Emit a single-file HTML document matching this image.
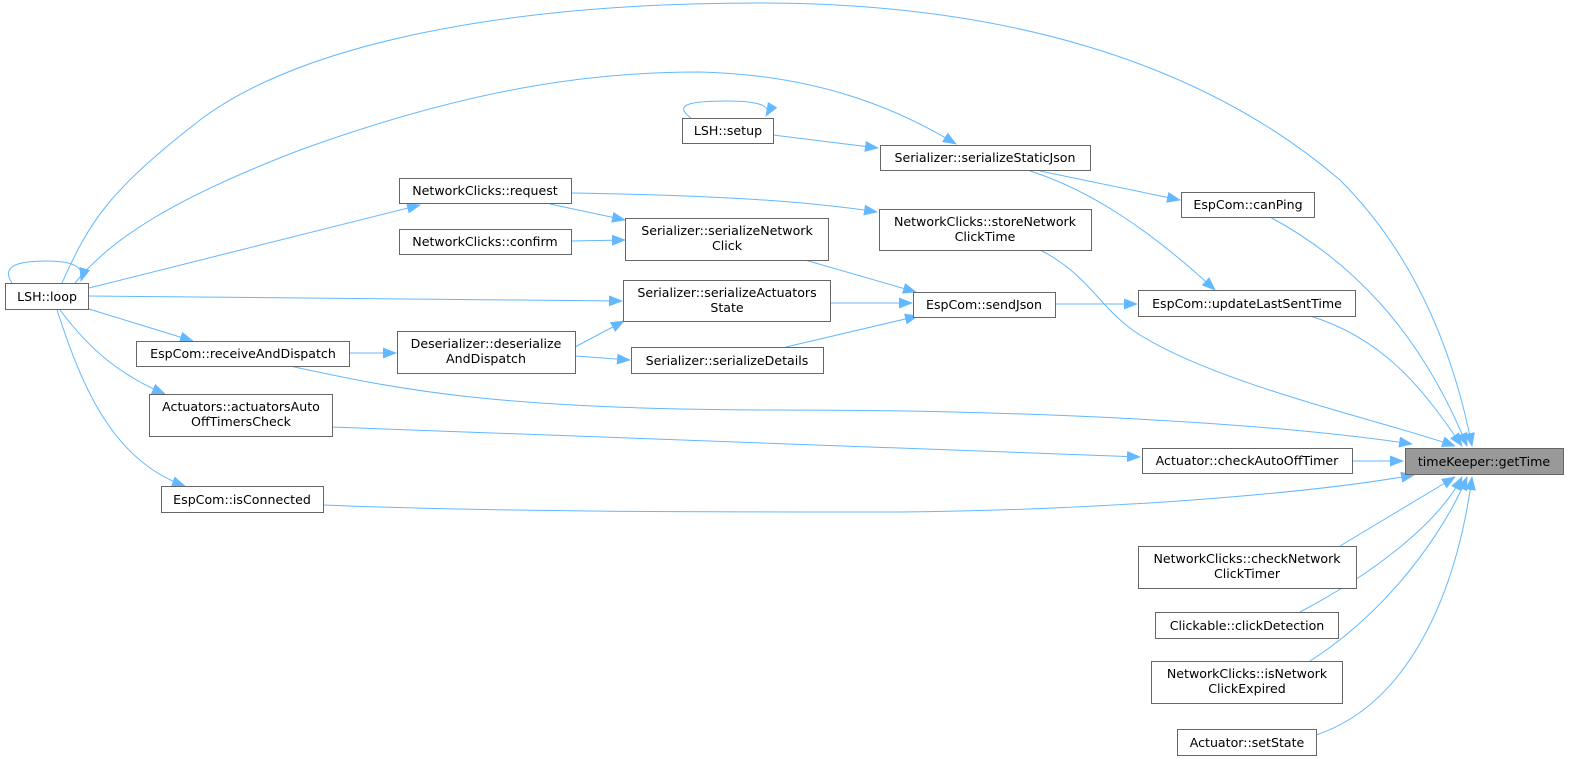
<!DOCTYPE html>
<html><head><meta charset="utf-8"><style>
html,body{margin:0;padding:0;background:#fff;}
svg{display:block;}
text{font-family:"DejaVu Sans","Liberation Sans",sans-serif;font-size:12.6px;fill:#000;text-anchor:middle;}
.n{fill:#fff;stroke:#666;stroke-width:1;}
.g{fill:#999;stroke:#666;stroke-width:1;}
path.e{fill:none;stroke:#63b8ff;stroke-width:1;marker-end:url(#a);}
</style></head><body>
<svg width="1569" height="759" viewBox="0 0 1569 759" xmlns="http://www.w3.org/2000/svg">
<defs><marker id="a" markerWidth="14" markerHeight="11" refX="13" refY="5.5" orient="auto" markerUnits="userSpaceOnUse"><path d="M0,0 L14,5.5 L0,11 Z" fill="#63b8ff"/></marker></defs>

<path class="e" d="M12,283 C0,265 20,261 47,261 C75,261 85,268 81,281"/>
<path class="e" d="M691,118 C672,104 692,101 727,101 C760,101 772,106 766,116"/>
<path class="e" d="M62,283 C90,220 110,190 200,120 C300,45 500,3 760,3 C1000,3 1200,60 1340,180 C1420,260 1455,360 1472,446"/>
<path class="e" d="M75,283 C110,240 170,200 300,150 C480,85 600,72 700,72 C820,75 900,110 956,144"/>
<path class="e" d="M773,135 L878,148"/>
<path class="e" d="M1030,171 C1090,190 1150,230 1215,290"/>
<path class="e" d="M1040,171 L1180,200"/>
<path class="e" d="M89,288 L420,205"/>
<path class="e" d="M89,296 L622,301"/>
<path class="e" d="M89,309 L193,341"/>
<path class="e" d="M60,310 C90,350 120,375 165,394"/>
<path class="e" d="M57,310 C80,380 110,460 185,486"/>
<path class="e" d="M349,353 L396,353"/>
<path class="e" d="M575,347 L624,321"/>
<path class="e" d="M575,356 L630,360"/>
<path class="e" d="M550,204 L625,220"/>
<path class="e" d="M571,241 L625,240"/>
<path class="e" d="M571,193 C700,195 800,200 877,212"/>
<path class="e" d="M805,260 L916,292"/>
<path class="e" d="M830,303 L912,303"/>
<path class="e" d="M786,347 L918,316"/>
<path class="e" d="M1055,304 L1137,304"/>
<path class="e" d="M290,366 C400,390 500,410 780,410 C1000,410 1250,420 1412,444"/>
<path class="e" d="M1040,250 C1090,275 1100,310 1140,335 C1220,385 1380,420 1455,446"/>
<path class="e" d="M1310,316 C1390,340 1430,400 1462,446"/>
<path class="e" d="M1270,217 C1350,260 1420,330 1467,446"/>
<path class="e" d="M332,427 L1140,457"/>
<path class="e" d="M1352,461 L1403,461"/>
<path class="e" d="M323,505 C500,512 700,512 900,512 C1100,510 1300,495 1414,475"/>
<path class="e" d="M1340,546 L1455,477"/>
<path class="e" d="M1300,612 C1380,570 1440,520 1462,477"/>
<path class="e" d="M1310,661 C1390,610 1445,530 1467,477"/>
<path class="e" d="M1316,735 C1420,700 1460,570 1472,477"/>

<rect class="n" x="5.5" y="283.5" width="83" height="26"/><text x="47" y="301">LSH::loop</text>
<rect class="n" x="682.5" y="118.5" width="91" height="25"/><text x="728" y="135">LSH::setup</text>
<rect class="n" x="880.5" y="145.5" width="210" height="25"/><text x="985" y="162">Serializer::serializeStaticJson</text>
<rect class="n" x="399.5" y="178.5" width="172" height="25"/><text x="485" y="195">NetworkClicks::request</text>
<rect class="n" x="879.5" y="209.5" width="212" height="41"/><text x="985" y="226">NetworkClicks::storeNetwork</text><text x="985" y="241">ClickTime</text>
<rect class="n" x="625.5" y="218.5" width="203" height="42"/><text x="727" y="235">Serializer::serializeNetwork</text><text x="727" y="250">Click</text>
<rect class="n" x="399.5" y="229.5" width="172" height="25"/><text x="485" y="246">NetworkClicks::confirm</text>
<rect class="n" x="1181.5" y="192.5" width="133" height="25"/><text x="1248" y="209">EspCom::canPing</text>
<rect class="n" x="623.5" y="280.5" width="207" height="41"/><text x="727" y="297">Serializer::serializeActuators</text><text x="727" y="312">State</text>
<rect class="n" x="913.5" y="292.5" width="142" height="25"/><text x="984" y="309">EspCom::sendJson</text>
<rect class="n" x="1138.5" y="290.5" width="217" height="26"/><text x="1247" y="308">EspCom::updateLastSentTime</text>
<rect class="n" x="397.5" y="331.5" width="178" height="42"/><text x="486" y="348">Deserializer::deserialize</text><text x="486" y="363">AndDispatch</text>
<rect class="n" x="136.5" y="341.5" width="213" height="25"/><text x="243" y="358">EspCom::receiveAndDispatch</text>
<rect class="n" x="631.5" y="347.5" width="192" height="26"/><text x="727" y="365">Serializer::serializeDetails</text>
<rect class="n" x="149.5" y="394.5" width="183" height="42"/><text x="241" y="411">Actuators::actuatorsAuto</text><text x="241" y="426">OffTimersCheck</text>
<rect class="n" x="1142.5" y="448.5" width="210" height="25"/><text x="1247" y="465">Actuator::checkAutoOffTimer</text>
<rect class="g" x="1405.5" y="448.5" width="158" height="26"/><text x="1484" y="466">timeKeeper::getTime</text>
<rect class="n" x="161.5" y="486.5" width="162" height="26"/><text x="242" y="504">EspCom::isConnected</text>
<rect class="n" x="1138.5" y="546.5" width="218" height="42"/><text x="1247" y="563">NetworkClicks::checkNetwork</text><text x="1247" y="578">ClickTimer</text>
<rect class="n" x="1155.5" y="612.5" width="183" height="26"/><text x="1247" y="630">Clickable::clickDetection</text>
<rect class="n" x="1151.5" y="661.5" width="191" height="42"/><text x="1247" y="678">NetworkClicks::isNetwork</text><text x="1247" y="693">ClickExpired</text>
<rect class="n" x="1177.5" y="729.5" width="139" height="26"/><text x="1247" y="747">Actuator::setState</text>
</svg>
</body></html>
